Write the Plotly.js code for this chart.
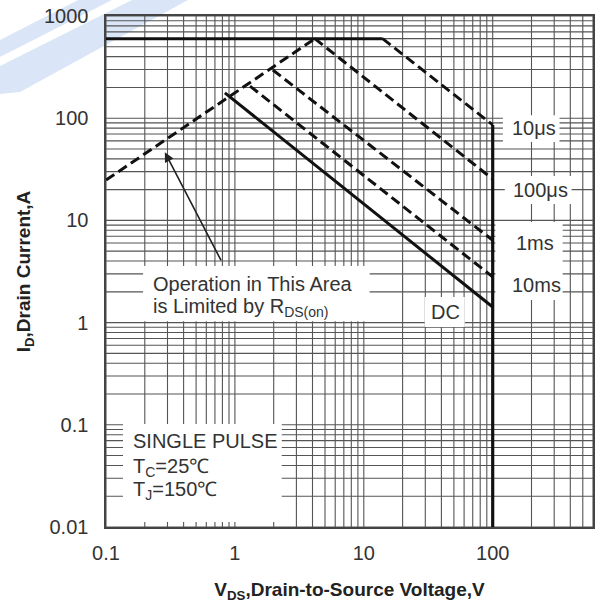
<!DOCTYPE html>
<html>
<head>
<meta charset="utf-8">
<script src="https://cdn.plot.ly/plotly-3.0.1.min.js"></script>
<style>html,body{margin:0;padding:0;background:#fff;}#chart{width:597px;height:603px;}</style>
</head>
<body>
<div id="chart"></div>
<script>
// ---- data (V in volts, I in amperes) ----
const limitV = [0.1, 14];     const limitI = [600, 600];
const rdsV   = [0.1, 4.17];   const rdsI   = [24.8, 600];
const us10V  = [14, 100];     const us10I  = [600, 86];
const us100V = [4.17, 100];   const us100I = [600, 25.4];
const ms1V   = [1.97, 100];   const ms1I   = [296, 6.4];
const ms10V  = [1.31, 100];   const ms10I  = [206, 2.8];
const dcV    = [0.836, 100];  const dcI    = [177, 1.42];
const bvV    = [100, 100];    const bvI    = [86, 0.01];

const xTickVals = [0.1, 1, 10, 100];
const xTickText = ['0.1', '1', '10', '100'];
const yTickVals = [0.01, 0.1, 1, 10, 100, 1000];
const yTickText = ['0.01', '0.1', '1', '10', '100', '1000'];
const digits = [1, 2, 3, 4, 5, 6, 7, 8, 9];
const xMax = 600;

// gridlines at every 1..9 of each decade
function gridVals(decades, maxV) {
  const out = [];
  decades.forEach(d => digits.forEach(k => { const v = +(d * k).toPrecision(3); if (v <= maxV * 1.0001) out.push(v); }));
  return out;
}
const xGrid = gridVals(xTickVals, xMax);
const yGrid = gridVals(yTickVals, 1000);

const K = '#111';
function line(x, y, dash, w) {
  return {x: x, y: y, type: 'scatter', mode: 'lines', hoverinfo: 'skip', showlegend: false,
          line: {color: K, width: w || 3, dash: dash || 'solid'}};
}
const DASH = '10px,5px';
const traces = [
  line(limitV, limitI),
  line(rdsV, rdsI, DASH),
  line(us10V, us10I, DASH),
  line(us100V, us100I, DASH),
  line(ms1V, ms1I, DASH),
  line(ms10V, ms10I, DASH),
  line(dcV, dcI),
  line(bvV, bvI, 'solid', 3.2)
];

const shapes = [];
// faint watermark bands (top-left, mostly outside plot)
function px(x, y) { return ((x - 106) / 487).toFixed(4) + ',' + ((527 - y) / 511).toFixed(4); }
const WM = '#dae6f7';
shapes.push({type: 'path', xref: 'paper', yref: 'paper', layer: 'below', fillcolor: WM, line: {width: 0},
  path: 'M' + px(0, 40) + 'L' + px(78, 0) + 'L' + px(112, 0) + 'L' + px(0, 57) + 'Z'});
shapes.push({type: 'path', xref: 'paper', yref: 'paper', layer: 'below', fillcolor: WM, line: {width: 0},
  path: 'M' + px(0, 66) + 'L' + px(132, 0) + 'L' + px(188, 0) + 'L' + px(20, 92) + 'L' + px(0, 94) + 'Z'});

const GRID = {color: '#555', width: 1.1};
xGrid.forEach(v => shapes.push({type: 'line', xref: 'x', yref: 'y domain', x0: v, x1: v, y0: 0, y1: 1, line: GRID, layer: 'below'}));
yGrid.forEach(v => shapes.push({type: 'line', xref: 'x domain', yref: 'y', x0: 0, x1: 1, y0: v, y1: v, line: GRID, layer: 'below'}));

// white label boxes (data units)
const boxes = [
  [0.1355, 2.31, 0.0112, 0.102],   // single pulse
  [0.194, 11.1, 1.03, 3.58],       // operation text
  [29.7, 60.7, 0.906, 1.78],       // DC
  [120, 330, 58.5, 107],           // 10us
  [124, 409, 14.5, 27.2],          // 100us
  [105, 349, 1.66, 9.65]           // 1ms / 10ms
];
boxes.forEach(b => shapes.push({type: 'rect', xref: 'x', yref: 'y', x0: b[0], x1: b[1], y0: b[2], y1: b[3],
  fillcolor: '#ffffff', line: {width: 0}, layer: 'below'}));

const FONT = 'Arial, "Liberation Sans", sans-serif';
const TXT = {family: FONT, size: 20, color: '#333'};
const L = Math.log10;
function ann(text, x, y, xanchor) {
  return {text: text, x: L(x), y: L(y), xref: 'x', yref: 'y', showarrow: false,
          xanchor: xanchor || 'center', yanchor: 'middle', font: TXT};
}
const annotations = [
  ann('10μs', 208, 80.2),
  ann('100μs', 235, 19.8),
  ann('1ms', 212, 6.0),
  ann('10ms', 219, 2.33),
  ann('DC', 43.3, 1.27),
  ann('Operation in This Area', 0.2234, 2.39, 'left'),
  ann('is Limited by R<sub>DS(on)</sub>', 0.2234, 1.42, 'left'),
  ann('SINGLE PULSE', 0.156, 0.0694, 'left'),
  ann('T<sub>C</sub>=25℃', 0.156, 0.0386, 'left'),
  ann('T<sub>J</sub>=150℃', 0.156, 0.023, 'left'),
  {text: '', x: L(0.286), y: L(46.5), ax: L(0.792), ay: L(3.92), xref: 'x', yref: 'y', axref: 'x', ayref: 'y',
   showarrow: true, arrowhead: 2, arrowsize: 1.2, arrowwidth: 1.6, arrowcolor: '#222', standoff: 0}
];

const axisCommon = {type: 'log', showgrid: false,
  showline: true, mirror: true, linecolor: '#444', linewidth: 1.6, zeroline: false,
  ticks: '', tickfont: {family: FONT, size: 20, color: '#333'}, tickmode: 'array'};

const layout = {
  width: 597, height: 603,
  margin: {l: 106, r: 4, t: 16, b: 76},
  paper_bgcolor: '#fff', plot_bgcolor: 'rgba(0,0,0,0)',
  xaxis: Object.assign({}, axisCommon, {range: [-1, L(xMax)], tickvals: xTickVals, ticktext: xTickText,
    ticklabelstandoff: 7,
    title: {text: 'V<sub>DS</sub>,Drain-to-Source Voltage,V', standoff: 20,
            font: {family: FONT, size: 19, color: '#222', weight: 'bold'}}}),
  yaxis: Object.assign({}, axisCommon, {range: [-2, 3], tickvals: yTickVals, ticktext: yTickText,
    ticklabelstandoff: 12,
    title: {text: 'I<sub>D</sub>,Drain Current,A', standoff: 8,
            font: {family: FONT, size: 19, color: '#222', weight: 'bold'}}}),
  shapes: shapes,
  annotations: annotations
};

Plotly.newPlot('chart', traces, layout, {staticPlot: true, displayModeBar: false});
</script>
</body>
</html>
